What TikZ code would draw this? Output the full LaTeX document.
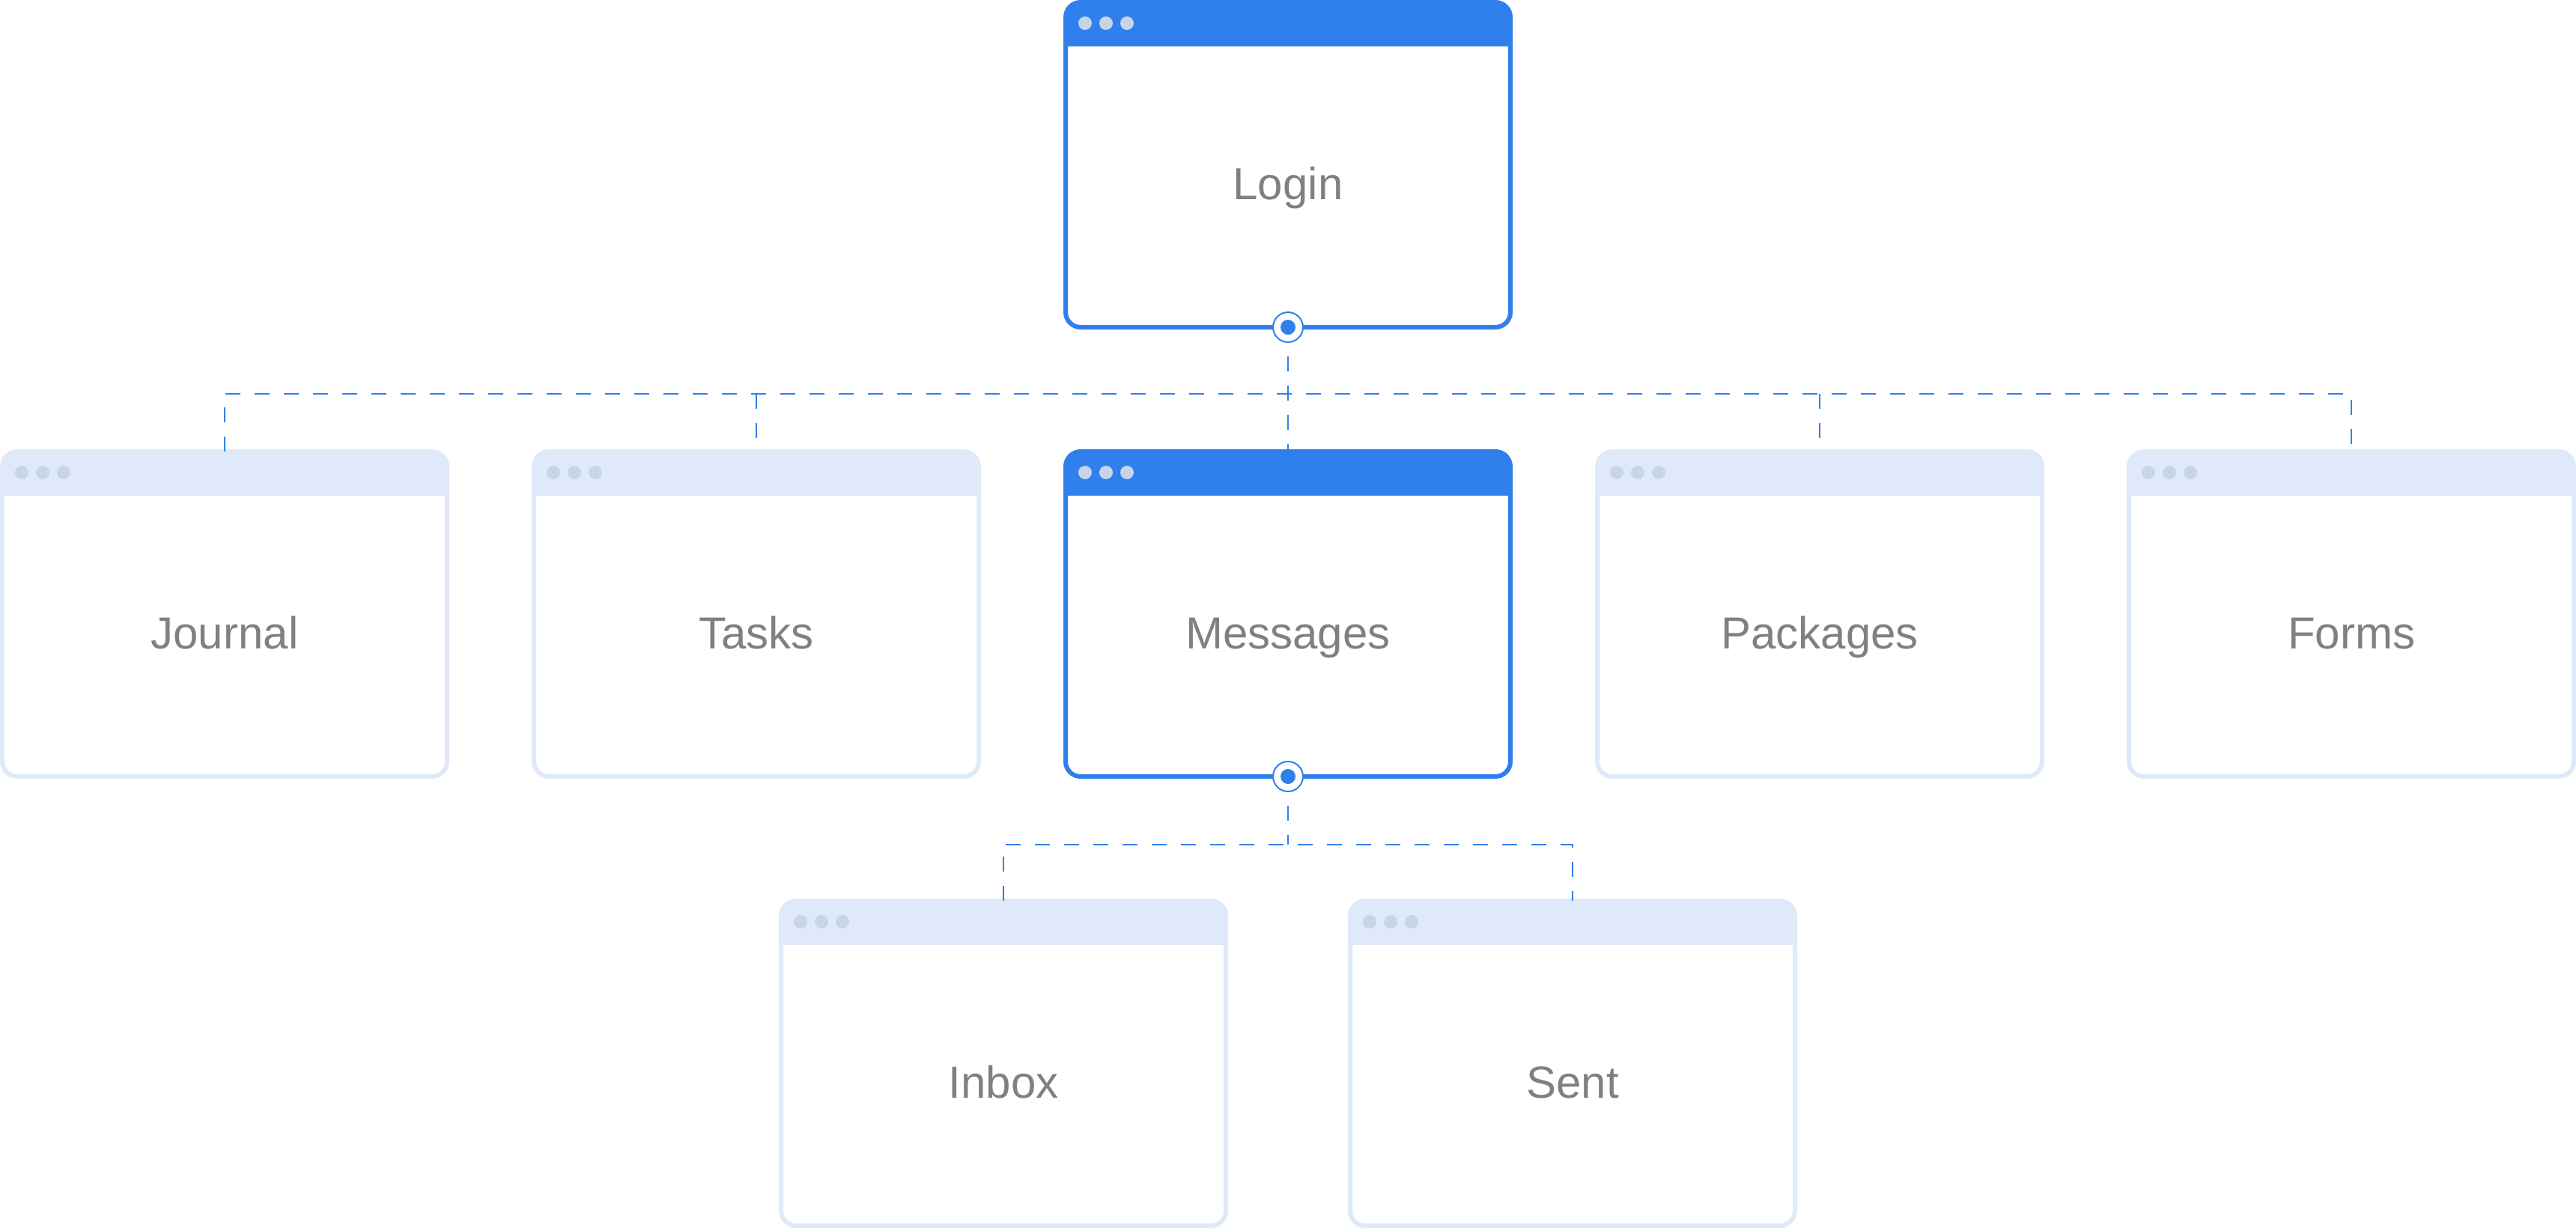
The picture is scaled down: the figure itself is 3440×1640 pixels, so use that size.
\documentclass[tikz,border=0pt]{standalone}
\usepackage{fontspec}
\setmainfont{Liberation Sans}
\definecolor{blueA}{HTML}{2F80EC}
\definecolor{lightA}{HTML}{DFE9F9}
\definecolor{dotA}{HTML}{C8D4E8}
\definecolor{textA}{HTML}{808080}
\begin{document}
\begin{tikzpicture}[x=1pt,y=-1pt,
  win/.style={draw=#1, line width=6pt, rounded corners=20pt,
    minimum width=594pt, minimum height=434pt, inner sep=0pt, outer sep=0pt, fill=white,
    path picture={
      \fill[#1, sharp corners] (path picture bounding box.north west) rectangle ([yshift=-59pt]path picture bounding box.north east);
      \foreach \dx in {26,54,82} \fill[dotA] ([xshift=\dx pt, yshift=-28pt]path picture bounding box.north west) circle[radius=9pt];
    }},
  lbl/.style={anchor=base, text=textA, font=\fontsize{60}{70}\selectfont, inner sep=0pt},
  conn/.style={draw=blueA, line width=2.5pt, dash pattern=on 20pt off 19pt},
  hub/.style={circle, draw=blueA, line width=2pt, fill=white, minimum size=40pt, inner sep=0pt,
    path picture={\fill[blueA] (path picture bounding box.center) circle[radius=10pt];}}
]
\useasboundingbox (0,0) rectangle (3440,1640);
% windows
\node[win=blueA]  (login)    at (1720,220) {};
\node[win=lightA] (journal)  at (300,820) {};
\node[win=lightA] (tasks)    at (1010,820) {};
\node[win=blueA]  (messages) at (1720,820) {};
\node[win=lightA] (packages) at (2430,820) {};
\node[win=lightA] (forms)    at (3140,820) {};
\node[win=lightA] (inbox)    at (1340,1420) {};
\node[win=lightA] (sent)     at (2100,1420) {};
% labels
\node[lbl] (tlogin)    at ([yshift=-46pt]login.center) {Login};
\node[lbl] (tjournal)  at ([yshift=-46pt]journal.center) {Journal};
\node[lbl] (ttasks)    at ([yshift=-46pt]tasks.center) {Tasks};
\node[lbl] (tmessages) at ([yshift=-46pt]messages.center) {Messages};
\node[lbl] (tpackages) at ([yshift=-46pt]packages.center) {Packages};
\node[lbl] (tforms)    at ([yshift=-46pt]forms.center) {Forms};
\node[lbl] (tinbox)    at ([yshift=-46pt]inbox.center) {Inbox};
\node[lbl] (tsent)     at ([yshift=-46pt]sent.center) {Sent};
% bus coordinates
\coordinate (bus1) at (1720,526);
\coordinate (bus2) at (1720,1128);
% connectors
\draw[conn] (journal.north) -- (journal.north |- bus1) -- (forms.north |- bus1) -- (forms.north);
\draw[conn] (tasks.north |- bus1) -- (tasks.north);
\draw[conn] (packages.north |- bus1) -- (packages.north);
\draw[conn] (login.south) -- (messages.north);
\draw[conn] (inbox.north) -- (inbox.north |- bus2) -- (sent.north |- bus2) -- (sent.north);
\draw[conn] (messages.south) -- (bus2);
% hubs
\node[hub] (hub1) at (login.south) {};
\node[hub] (hub2) at (messages.south) {};
\end{tikzpicture}
\end{document}
